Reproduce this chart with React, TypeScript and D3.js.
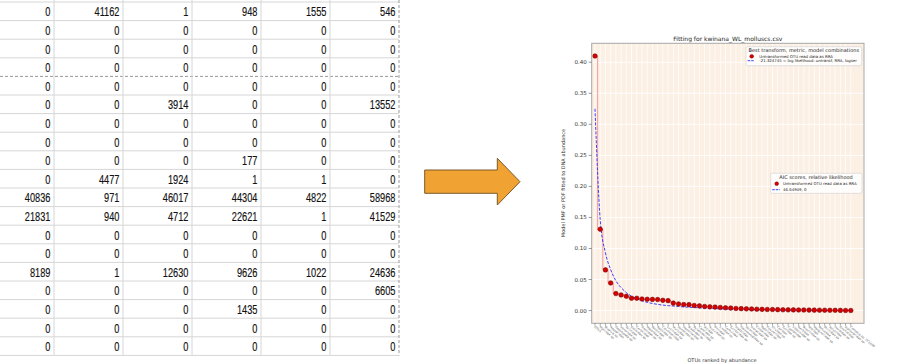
import React from 'react';
import * as d3 from 'd3';

// ---------- data ----------
const tableRows: number[][] = [
  [0, 41162, 1, 948, 1555, 546],
  [0, 0, 0, 0, 0, 0],
  [0, 0, 0, 0, 0, 0],
  [0, 0, 0, 0, 0, 0],
  [0, 0, 0, 0, 0, 0],
  [0, 0, 3914, 0, 0, 13552],
  [0, 0, 0, 0, 0, 0],
  [0, 0, 0, 0, 0, 0],
  [0, 0, 0, 177, 0, 0],
  [0, 4477, 1924, 1, 1, 0],
  [40836, 971, 46017, 44304, 4822, 58968],
  [21831, 940, 4712, 22621, 1, 41529],
  [0, 0, 0, 0, 0, 0],
  [0, 0, 0, 0, 0, 0],
  [8189, 1, 12630, 9626, 1022, 24636],
  [0, 0, 0, 0, 0, 6605],
  [0, 0, 0, 1435, 0, 0],
  [0, 0, 0, 0, 0, 0],
  [0, 0, 0, 0, 0, 0],
];

const observedRRA: number[] = [
  0.41, 0.131, 0.0655, 0.0445, 0.0274, 0.0252, 0.023, 0.0198, 0.0198, 0.0187,
  0.0182, 0.018, 0.0178, 0.0165, 0.016, 0.012, 0.0107, 0.0097, 0.0095, 0.0082,
  0.0075, 0.0066, 0.006, 0.0056, 0.005, 0.0045, 0.004, 0.0034, 0.0031, 0.0028,
  0.0026, 0.0022, 0.002, 0.0018, 0.0017, 0.0015, 0.0013, 0.0012, 0.0011, 0.001,
  0.0009, 0.0008, 0.0007, 0.0006, 0.0005, 0.0004, 0.0004, 0.0003, 0.0002, 0.0001,
];

const fittedLogser: number[] = [
  0.325, 0.146, 0.093, 0.066, 0.048, 0.037, 0.029, 0.023, 0.019, 0.0158,
  0.0133, 0.0114, 0.01, 0.0088, 0.008, 0.0073, 0.0066, 0.006, 0.0054, 0.0049,
  0.0044, 0.004, 0.0036, 0.0032, 0.0029, 0.0026, 0.0023, 0.0021, 0.0019, 0.0017,
  0.0015, 0.0013, 0.0012, 0.0011, 0.001, 0.0009, 0.0008, 0.0007, 0.0006, 0.0006,
  0.0005, 0.0005, 0.0004, 0.0004, 0.0003, 0.0003, 0.0003, 0.0002, 0.0002, 0.0002,
];

const otuLabels: string[] = [
  'OTU1', 'Mytilidae sp.', 'Bivalvia sp.', 'Nassariidae', 'Gastropoda sp.', 'Veneridae sp.',
  'Tellinidae', 'Ostreidae sp.', 'Cerithiidae', 'Trochidae sp.', 'Mactridae sp.',
  'Pectinidae', 'Naticidae sp.', 'Columbellidae', 'Lucinidae sp.', 'Muricidae',
  'Semelidae sp.', 'Haminoeidae', 'Rissoidae sp.', 'Pyramidellidae', 'Cardiidae sp.',
  'Arcidae', 'Nuculidae sp.', 'Pinnidae', 'Limidae sp.', 'Corbulidae',
  'Turritellidae sp.', 'Hiatellidae', 'Galeommatidae sp.', 'Solenidae', 'Donacidae sp.',
  'Chitonidae', 'Patellidae sp.', 'Fissurellidae', 'Olividae sp.', 'Conidae',
  'Turridae sp.', 'Cypraeidae', 'Littorinidae sp.', 'Neritidae', 'Buccinidae sp.',
  'Mitridae', 'Marginellidae sp.', 'Retusidae', 'Philinidae sp.', 'Aplysiidae',
  'Dorididae sp.', 'Onchidiidae', 'Siphonariidae sp.', 'Comptus sp. CC1030',
];

const yTicks: number[] = [0, 0.05, 0.1, 0.15, 0.2, 0.25, 0.3, 0.35, 0.4];

const chartTitle = 'Fitting for kwinana_WL_molluscs.csv';
const yAxisLabel = 'Model PMF or PDF fitted to DNA abundance';
const xAxisLabel = 'OTUs ranked by abundance';
const legend1Title = 'Best transform, metric, model combinations';
const legend1Entries = ['Untransformed OTU read data as RRA', '-21.324745 = log likelihood: untransf, RRA, logser'];
const legend2Title = 'AIC scores, relative likelihood';
const legend2Entries = ['Untransformed OTU read data as RRA', '46.64949, 0'];

// ---------- layout ----------
const W = 901;
const H = 364;
const tbl = { top: 2, rowH: 18.6, firstRight: 54, colW: 69, dashedAfterRow: 4 };
const frame = { left: 591.7, right: 864, top: 43.3, bottom: 323.3 };

export default function App() {
  const x = d3.scaleLinear().domain([0, observedRRA.length - 1]).range([595, 850.8]);
  const y = d3.scaleLinear().domain([-0.0205, 0.4305]).range([frame.bottom, frame.top]);

  const stepLine = d3.line<number>().x((_, i) => x(i)).y((d) => y(d)).curve(d3.curveStep);
  const fitLine = d3.line<number>().x((_, i) => x(i)).y((d) => y(d)).curve(d3.curveMonotoneX);

  const nRows = tableRows.length;
  const nCols = tableRows[0].length;
  const tableBottom = tbl.top + nRows * tbl.rowH;
  const colRight = (c: number) => tbl.firstRight + c * tbl.colW;
  const fmt = d3.format('.2f');

  const arrow = [
    [424.7, 170], [497.3, 170], [497.3, 158.3], [520, 181.7],
    [497.3, 205], [497.3, 193.3], [424.7, 193.3],
  ];

  return (
    <svg width={W} height={H} style={{ position: 'absolute', left: 0, top: 0, background: '#fff' }}
      fontFamily="DejaVu Sans, sans-serif">
      {/* ---------- spreadsheet ---------- */}
      <g>
        {d3.range(nRows + 1).map((r) => (
          <line key={'h' + r} x1={-20} x2={colRight(nCols - 1)} y1={tbl.top + r * tbl.rowH} y2={tbl.top + r * tbl.rowH}
            stroke={r === tbl.dashedAfterRow ? '#9a9a9a' : '#d6d6d6'} strokeWidth={1}
            strokeDasharray={r === tbl.dashedAfterRow ? '3,2' : undefined} />
        ))}
        {d3.range(nCols).map((c) => (
          <line key={'v' + c} x1={colRight(c)} x2={colRight(c)} y1={0} y2={tableBottom}
            stroke={c === nCols - 1 ? '#9a9a9a' : '#d6d6d6'} strokeWidth={1}
            strokeDasharray={c === nCols - 1 ? '3,2' : undefined} />
        ))}
        {tableRows.map((row, r) =>
          row.map((v, c) => (
            <text key={r + '-' + c}
              transform={`translate(${colRight(c) - 3.5},${tbl.top + r * tbl.rowH + 14.4}) scale(0.71,1)`}
              textAnchor="end" fontFamily="Liberation Sans, Arial, sans-serif" fontSize={13} fill="#111"
              stroke="#111" strokeWidth={0.15}>
              {v}
            </text>
          ))
        )}
      </g>

      {/* ---------- arrow ---------- */}
      <polygon points={arrow.map((p) => p.join(',')).join(' ')} fill="#f0a232" stroke="#7a5a2a" strokeWidth={1} />

      {/* ---------- chart ---------- */}
      <g>
        <text x={(frame.left + frame.right) / 2} y={41} textAnchor="middle" fontSize={6} fill="#222">{chartTitle}</text>
        <rect x={frame.left} y={frame.top} width={frame.right - frame.left} height={frame.bottom - frame.top} fill="#fcefe3" />
        {otuLabels.map((_, i) => (
          <line key={'gx' + i} x1={x(i)} x2={x(i)} y1={frame.top} y2={frame.bottom} stroke="#ffffff" strokeWidth={0.8} />
        ))}
        {yTicks.map((t) => (
          <line key={'gy' + t} x1={frame.left} x2={frame.right} y1={y(t)} y2={y(t)} stroke="#ffffff" strokeWidth={0.9} />
        ))}
        <path d={stepLine(observedRRA) || ''} fill="none" stroke="#f28a8a" strokeWidth={0.8} />
        <path d={fitLine(fittedLogser) || ''} fill="none" stroke="#2a2aff" strokeWidth={0.9} strokeDasharray="3,1.5" />
        {observedRRA.map((v, i) => (
          <circle key={'p' + i} cx={x(i)} cy={y(v)} r={2.3} fill="#d80000" stroke="#600000" strokeWidth={0.5} />
        ))}
        <rect x={frame.left} y={frame.top} width={frame.right - frame.left} height={frame.bottom - frame.top}
          fill="none" stroke="#a8a8a8" strokeWidth={1} />

        {/* y axis */}
        {yTicks.map((t) => (
          <g key={'yt' + t}>
            <line x1={frame.left - 3} x2={frame.left} y1={y(t)} y2={y(t)} stroke="#555" strokeWidth={0.6} />
            <text x={frame.left - 5} y={y(t) + 2} textAnchor="end" fontSize={5.5} fill="#333">{fmt(t)}</text>
          </g>
        ))}
        <text transform={`translate(565,183) rotate(-90)`} textAnchor="middle" fontSize={5} fill="#333">{yAxisLabel}</text>

        {/* x axis */}
        {otuLabels.map((lab, i) => (
          <g key={'xt' + i}>
            <line x1={x(i)} x2={x(i)} y1={frame.bottom} y2={frame.bottom + 2.5} stroke="#555" strokeWidth={0.5} />
            <text transform={`translate(${x(i) - 1},${frame.bottom + 4}) rotate(40)`} fontSize={3} fill="#555">{lab}</text>
          </g>
        ))}
        <text x={722} y={361.8} textAnchor="middle" fontSize={5} fill="#333">{xAxisLabel}</text>

        {/* legend 1 */}
        <rect x={746} y={46.7} width={115.7} height={19} rx={1.5} fill="#ffffff" fillOpacity={0.85} stroke="#d0d0d0" strokeWidth={0.6} />
        <text x={803.8} y={51.6} textAnchor="middle" fontSize={5} fill="#222">{legend1Title}</text>
        <circle cx={751.7} cy={56.3} r={1.9} fill="#d80000" stroke="#600000" strokeWidth={0.4} />
        <text x={759.3} y={57.6} fontSize={3.9} fill="#222">{legend1Entries[0]}</text>
        <line x1={747.7} x2={754.3} y1={60.7} y2={60.7} stroke="#2a2aff" strokeWidth={0.9} strokeDasharray="2.5,1" />
        <text x={759.3} y={62} fontSize={3.9} fill="#222">{legend1Entries[1]}</text>

        {/* legend 2 */}
        <rect x={770.7} y={173.3} width={91.3} height={20} rx={1.5} fill="#ffffff" fillOpacity={0.85} stroke="#d0d0d0" strokeWidth={0.6} />
        <text x={816} y={179} textAnchor="middle" fontSize={5} fill="#222">{legend2Title}</text>
        <circle cx={776.7} cy={183.7} r={1.9} fill="#d80000" stroke="#600000" strokeWidth={0.4} />
        <text x={783} y={185} fontSize={3.9} fill="#222">{legend2Entries[0]}</text>
        <line x1={772.3} x2={780} y1={189.7} y2={189.7} stroke="#2a2aff" strokeWidth={0.9} strokeDasharray="2.5,1" />
        <text x={783} y={191} fontSize={3.9} fill="#222">{legend2Entries[1]}</text>
      </g>
    </svg>
  );
}
